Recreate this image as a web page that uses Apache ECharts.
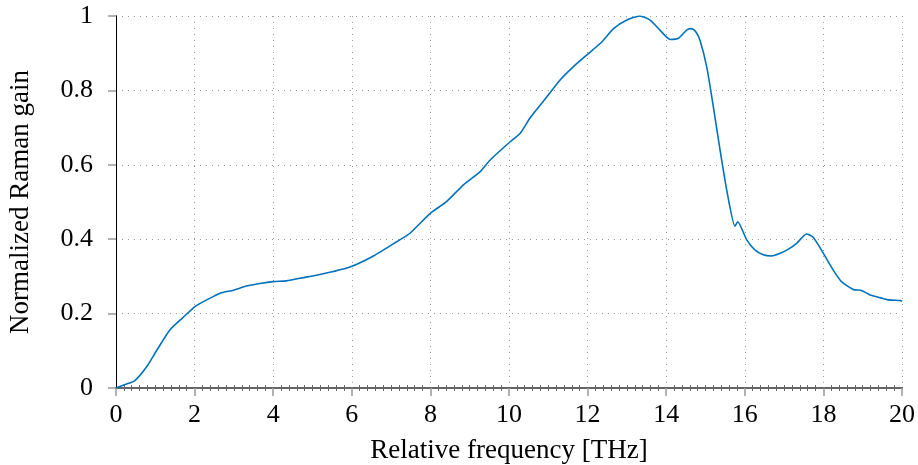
<!DOCTYPE html>
<html>
<head>
<meta charset="utf-8">
<script src="https://cdn.jsdelivr.net/npm/echarts@6/dist/echarts.min.js"></script>
<style>
  html, body { margin: 0; padding: 0; background: #fff; }
  #chart { width: 918px; height: 465px; }
</style>
</head>
<body>
<div id="chart"></div>
<script>
// Raman gain spectrum (normalized) vs relative frequency
const freqTHz = [0, 0.25, 0.48, 0.78, 1.03, 1.37, 1.71, 2.01, 2.31, 2.65, 2.99, 3.32, 3.66, 4.0, 4.34,
  4.68, 5.1, 5.53, 5.95, 6.55, 7.14, 7.48, 7.99, 8.41, 8.84, 9.26, 9.52, 10.03, 10.28, 10.53, 10.87,
  11.30, 11.64, 12.02, 12.36, 12.66, 13.0, 13.33, 13.59, 13.84, 14.10, 14.31, 14.52, 14.62, 14.69,
  14.77, 14.86, 15.03, 15.20, 15.37, 15.54, 15.75, 15.82, 16.05, 16.25, 16.47, 16.68, 16.9, 17.12,
  17.32, 17.57, 17.74, 18.0, 18.25, 18.46, 18.76, 18.97, 19.19, 19.44, 19.65, 19.97, 20.0];
const gain = [0, 0.01, 0.02, 0.057, 0.10, 0.156, 0.19, 0.219, 0.237, 0.255, 0.263, 0.274, 0.281, 0.286, 0.288,
  0.295, 0.303, 0.313, 0.325, 0.355, 0.393, 0.416, 0.469, 0.501, 0.546, 0.581, 0.613, 0.662, 0.684, 0.725, 0.77,
  0.828, 0.864, 0.899, 0.93, 0.966, 0.989, 1.0, 0.989, 0.962, 0.937, 0.94, 0.962, 0.966, 0.964,
  0.955, 0.935, 0.864, 0.756, 0.64, 0.532, 0.435, 0.447, 0.398, 0.372, 0.358, 0.355, 0.362, 0.374,
  0.389, 0.414, 0.405, 0.362, 0.317, 0.286, 0.265, 0.262, 0.25, 0.243, 0.237, 0.235, 0.233];
const xTicks = [0, 2, 4, 6, 8, 10, 12, 14, 16, 18, 20];
const yTicks = [0, 0.2, 0.4, 0.6, 0.8, 1];

const FONT = '"Liberation Serif", "DejaVu Serif", serif';
const gridLine = { show: true, lineStyle: { color: '#9a9a9a', type: [1, 5], width: 1 } };

const chart = echarts.init(document.getElementById('chart'), null, { renderer: 'canvas' });
chart.setOption({
  animation: false,
  grid: { left: 116, right: 16, top: 16, bottom: 77, outerBoundsMode: 'none', containLabel: false },
  xAxis: [{
    type: 'value', min: xTicks[0], max: xTicks[xTicks.length - 1], interval: 2,
    name: 'Relative frequency [THz]', nameLocation: 'middle', nameGap: 49,
    nameTextStyle: { fontFamily: FONT, fontSize: 27, color: '#000' },
    axisLine: { show: true, lineStyle: { color: '#666', width: 2 } },
    axisTick: { show: true, inside: false, length: 8, lineStyle: { color: '#999', width: 1.5 } },
    minorTick: { show: true, splitNumber: 10, length: 3, lineStyle: { color: '#666', width: 1 } },
    axisLabel: { fontFamily: FONT, fontSize: 26, color: '#000', margin: 14 },
    splitLine: gridLine
  }, {
    type: 'value', position: 'top', min: xTicks[0], max: xTicks[xTicks.length - 1], interval: 2,
    axisLine: { show: true, lineStyle: { color: '#666', width: 2 } },
    axisTick: { show: false },
    minorTick: { show: true, splitNumber: 10, length: 3, lineStyle: { color: '#666', width: 1 } },
    axisLabel: { show: false },
    splitLine: { show: false }
  }],
  yAxis: [{
    type: 'value', min: yTicks[0], max: yTicks[yTicks.length - 1], interval: 0.2,
    name: 'Normalized Raman gain', nameLocation: 'middle', nameGap: 82,
    nameTextStyle: { fontFamily: FONT, fontSize: 27, color: '#000' },
    axisLine: { show: true, lineStyle: { color: '#000', width: 1 } },
    axisTick: { show: true, inside: false, length: 8, lineStyle: { color: '#999', width: 1.5 } },
    axisLabel: {
      fontFamily: FONT, fontSize: 26, color: '#000', margin: 23,
      formatter: v => String(Math.round(v * 10) / 10)
    },
    splitLine: gridLine
  }, {
    type: 'value', position: 'right', min: 0, max: 1, interval: 0.2,
    axisLine: { show: true, lineStyle: { color: '#000', width: 1 } },
    axisTick: { show: false }, axisLabel: { show: false }, splitLine: { show: false }
  }],
  series: [{
    type: 'line',
    data: freqTHz.map((f, i) => [f, gain[i]]),
    showSymbol: false,
    smooth: 0.2,
    lineStyle: { color: '#0072BD', width: 1.6 },
    z: 5
  }]
});
</script>
</body>
</html>
